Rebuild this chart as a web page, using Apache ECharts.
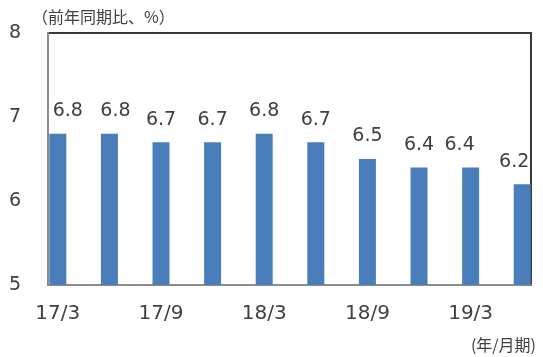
<!DOCTYPE html>
<html>
<head>
<meta charset="utf-8">
<script src="https://cdn.jsdelivr.net/npm/echarts@6/dist/echarts.min.js"></script>
<style>
html,body{margin:0;padding:0;background:#fff;}
#chart{width:543px;height:357px;}
</style>
</head>
<body>
<div id="chart"></div>
<script>
// ---- data ----
const categories = ['17/3','17/6','17/9','17/12','18/3','18/6','18/9','18/12','19/3','19/6'];
const growth = [6.8, 6.8, 6.7, 6.7, 6.8, 6.7, 6.5, 6.4, 6.4, 6.2];
const labelledCategories = [0, 2, 4, 6, 8];
const yTicks = [5, 6, 7, 8];
const yAxisTitle = '（前年同期比、%）';
const xAxisTitle = '(年/月期)';

// ---- styling ----
const textColor = '#404040';
const fontFamily = '"DejaVu Sans", Verdana, "Noto Sans CJK JP", sans-serif';
const cjkFont = '"Noto Sans CJK JP", "DejaVu Sans", sans-serif';
const labelNudge = [10, 6, 0, 0, 0, 0, 0, 0, -11, -8];

const chart = echarts.init(document.getElementById('chart'), null, {renderer: 'canvas'});
chart.setOption({
  animation: false,
  backgroundColor: '#ffffff',
  title: [
    {text: yAxisTitle, left: 27, top: 4, textStyle: {fontFamily: cjkFont, fontSize: 16, fontWeight: 'normal', color: textColor}},
    {text: xAxisTitle, right: 2, top: 332, textStyle: {fontFamily: cjkFont, fontSize: 16, fontWeight: 'normal', color: textColor}}
  ],
  grid: {left: 48, right: 12, top: 33, bottom: 72, show: true, borderColor: '#3a3a3a', borderWidth: 2, backgroundColor: 'transparent'},
  xAxis: {
    type: 'value', min: -0.19, max: 9.17,
    splitLine: {show: false},
    axisTick: {show: false},
    axisLine: {show: true, onZero: false, lineStyle: {color: '#8c8c8c', width: 2}},
    axisLabel: {
      customValues: labelledCategories,
      formatter: v => categories[Math.round(v)] || '',
      margin: 19, color: textColor, fontFamily: fontFamily, fontSize: 20
    }
  },
  yAxis: {
    type: 'value', min: yTicks[0], max: yTicks[yTicks.length - 1], interval: 1,
    splitLine: {show: false},
    axisTick: {show: false},
    axisLine: {show: true, onZero: false, lineStyle: {color: '#8c8c8c', width: 2}},
    axisLabel: {margin: 27, color: textColor, fontFamily: fontFamily, fontSize: 19}
  },
  series: [{
    type: 'bar',
    barWidth: 17,
    itemStyle: {color: '#4a7ebb'},
    label: {show: true, position: 'top', distance: 13, color: textColor, fontFamily: fontFamily, fontSize: 19,
      formatter: p => p.value[1].toFixed(1)},
    data: growth.map((v, i) => ({value: [i, v], label: {offset: [labelNudge[i], 0]}}))
  }]
});
</script>
</body>
</html>
